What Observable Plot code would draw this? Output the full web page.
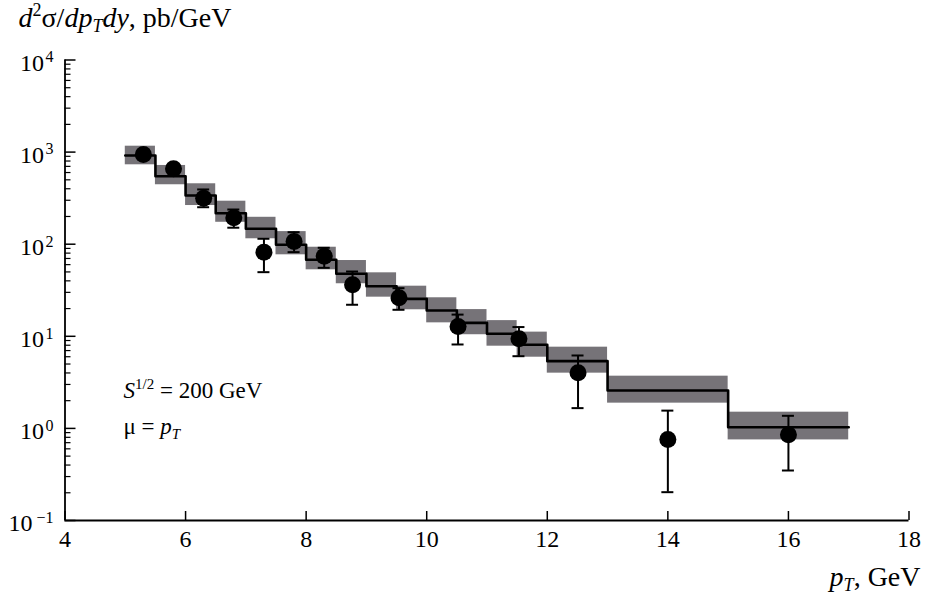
<!DOCTYPE html>
<html><head><meta charset="utf-8">
<script src="https://cdn.jsdelivr.net/npm/d3@7"></script>
<script src="https://cdn.jsdelivr.net/npm/@observablehq/plot@0.6"></script>
<style>body{margin:0;background:#fff}</style>
</head><body><div id="chart"></div>
<script>
// Theory histogram bins (pT, GeV) and cross sections (pb/GeV)
const binLo    = [5, 5.5, 6, 6.5, 7, 7.5, 8, 8.5, 9, 9.5, 10, 10.5, 11, 11.5, 12, 13, 15];
const binHi    = [5.5, 6, 6.5, 7, 7.5, 8, 8.5, 9, 9.5, 10, 10.5, 11, 11.5, 12, 13, 15, 17];
const theory   = [919, 547, 338, 217, 147, 98.6, 67.7, 47.7, 35, 25.5, 19.05, 14.0, 10.65, 8.09, 5.37, 2.58, 1.03];
const theoryUp = [1159, 716, 453, 293, 196, 137, 92.7, 66.5, 48.9, 35, 26.2, 19.5, 14.8, 11.1, 7.62, 3.69, 1.50];
const theoryDn = [728, 442, 263, 173, 114.5, 76.7, 52.7, 37.2, 26.6, 19.4, 14.0, 10.4, 7.81, 5.93, 3.98, 1.88, 0.75];

// Measured points
const ptData  = [5.3, 5.8, 6.3, 6.8, 7.3, 7.8, 8.3, 8.77, 9.54, 10.52, 11.53, 12.51, 14, 16];
const sigma   = [942, 659, 316, 194, 82, 107, 74, 36.2, 26.2, 12.8, 9.4, 4.02, 0.757, 0.853];
const sigmaLo = [850, 600, 252, 151, 49.7, 82, 55.4, 22, 19.4, 8.15, 6.08, 1.66, 0.203, 0.349];
const sigmaHi = [1040, 725, 393, 238, 114.5, 135, 91.4, 50.5, 33.3, 17.2, 12.6, 6.19, 1.56, 1.37];

// Axes
const xDomain = [4, 18];
const yDomain = [0.1, 1e4];
const xTicks = [4, 6, 8, 10, 12, 14, 16, 18];
const yExponents = [-1, 0, 1, 2, 3, 4];

const bins = binLo.map((lo, i) => ({lo, hi: binHi[i], c: theory[i], up: theoryUp[i], dn: theoryDn[i]}));
const steps = bins.map(b => ({x: b.lo, y: b.c})).concat([{x: bins[bins.length - 1].hi, y: bins[bins.length - 1].c}]);
const points = ptData.map((x, i) => ({x, y: sigma[i], lo: sigmaLo[i], hi: sigmaHi[i]}));
const yMajor = yExponents.map(e => Math.pow(10, e));
const yMinor = [];
for (let e = -1; e < 4; e++) for (let m = 2; m <= 9; m++) yMinor.push(m * Math.pow(10, e));

const rich = {
  "§title": '<tspan font-style="italic">d</tspan><tspan font-size="18" dy="-11">2</tspan><tspan dy="11">σ/</tspan><tspan font-style="italic">dp</tspan><tspan font-style="italic" font-size="18" dy="5">T</tspan><tspan font-style="italic" dy="-5">dy</tspan><tspan>, pb/GeV</tspan>',
  "§s": '<tspan font-style="italic">S</tspan><tspan font-size="15" dy="-9">1/2</tspan><tspan dy="9"> = 200 GeV</tspan>',
  "§mu": 'μ = <tspan font-style="italic">p</tspan><tspan font-style="italic" font-size="15" dy="5">T</tspan>',
  "§xlabel": '<tspan font-style="italic">p</tspan><tspan font-style="italic" font-size="18" dy="5">T</tspan><tspan dy="-5">, GeV</tspan>'
};

const plot = Plot.plot({
  width: 925,
  height: 595,
  marginLeft: 64.5,
  marginRight: 16.5,
  marginTop: 59.5,
  marginBottom: 75,
  x: {domain: xDomain, axis: null},
  y: {type: "log", domain: yDomain, axis: null},
  style: {fontFamily: "'Liberation Serif', 'Times New Roman', serif", fontSize: "23px", background: "#fff", color: "#000"},
  marks: [
    Plot.rect(bins, {x1: "lo", x2: "hi", y1: "dn", y2: "up", fill: "#767378"}),
    Plot.line(steps, {x: "x", y: "y", curve: "step-after", stroke: "#000", strokeWidth: 2.6}),
    Plot.ruleX(points, {x: "x", y1: "lo", y2: "hi", stroke: "#000", strokeWidth: 2}),
    Plot.ruleY(points, {x1: "x", x2: "x", y: "lo", insetLeft: -6, insetRight: -6, stroke: "#000", strokeWidth: 2}),
    Plot.ruleY(points, {x1: "x", x2: "x", y: "hi", insetLeft: -6, insetRight: -6, stroke: "#000", strokeWidth: 2}),
    Plot.dot(points, {x: "x", y: "y", r: 8.5, fill: "#000", stroke: "none"}),
    // axes
    Plot.ruleX([xDomain[0]], {stroke: "#000", strokeWidth: 1.8}),
    Plot.ruleY([yDomain[0]], {stroke: "#000", strokeWidth: 1.8}),
    Plot.ruleY(yMajor, {x1: xDomain[0], x2: xDomain[0], y: d => d, insetRight: -11, stroke: "#000", strokeWidth: 1.5}),
    Plot.ruleY(yMinor, {x1: xDomain[0], x2: xDomain[0], y: d => d, insetRight: -6, stroke: "#000", strokeWidth: 1.2}),
    Plot.ruleX(xTicks, {x: d => d, y1: yDomain[0], y2: yDomain[0], insetTop: -9, stroke: "#000", strokeWidth: 1.5}),
    Plot.text(xTicks, {x: d => d, frameAnchor: "bottom", text: d => String(d), lineAnchor: "top", dy: 9, fontSize: 24, fill: "#000"}),
    Plot.text(yExponents.filter(e => e >= 0), {y: e => Math.pow(10, e), frameAnchor: "left", text: () => "10", textAnchor: "end", dx: -21, dy: 3.1, fontSize: 24, fill: "#000"}),
    Plot.text(yExponents.filter(e => e < 0), {y: e => Math.pow(10, e), frameAnchor: "left", text: () => "10", textAnchor: "end", dx: -32.5, dy: 3.1, fontSize: 24, fill: "#000"}),
    Plot.text(yExponents, {y: e => Math.pow(10, e), frameAnchor: "left", text: e => String(e).replace("-", "\u2212"), textAnchor: "end", dx: -11.5, dy: -2.8, fontSize: 16, fill: "#000"}),
    // titles / annotations
    Plot.text(["§title"], {frameAnchor: "top-left", text: d => d, textAnchor: "start", lineAnchor: "bottom", dx: -46.5, dy: -33.5, fontSize: 28, fill: "#000"}),
    Plot.text(["§s"], {frameAnchor: "bottom-left", text: d => d, textAnchor: "start", lineAnchor: "bottom", dx: 58.5, dy: -123, fontSize: 23, fill: "#000"}),
    Plot.text(["§mu"], {frameAnchor: "bottom-left", text: d => d, textAnchor: "start", lineAnchor: "bottom", dx: 58.5, dy: -86.5, fontSize: 23, fill: "#000"}),
    Plot.text(["§xlabel"], {frameAnchor: "bottom-right", text: d => d, textAnchor: "end", lineAnchor: "bottom", dx: 11.5, dy: 65, fontSize: 28, fill: "#000"})
  ]
});

d3.select(plot).selectAll("text").each(function() {
  const t = this.textContent;
  if (rich[t]) this.innerHTML = rich[t];
});

document.getElementById("chart").appendChild(plot);
</script>
</body></html>
